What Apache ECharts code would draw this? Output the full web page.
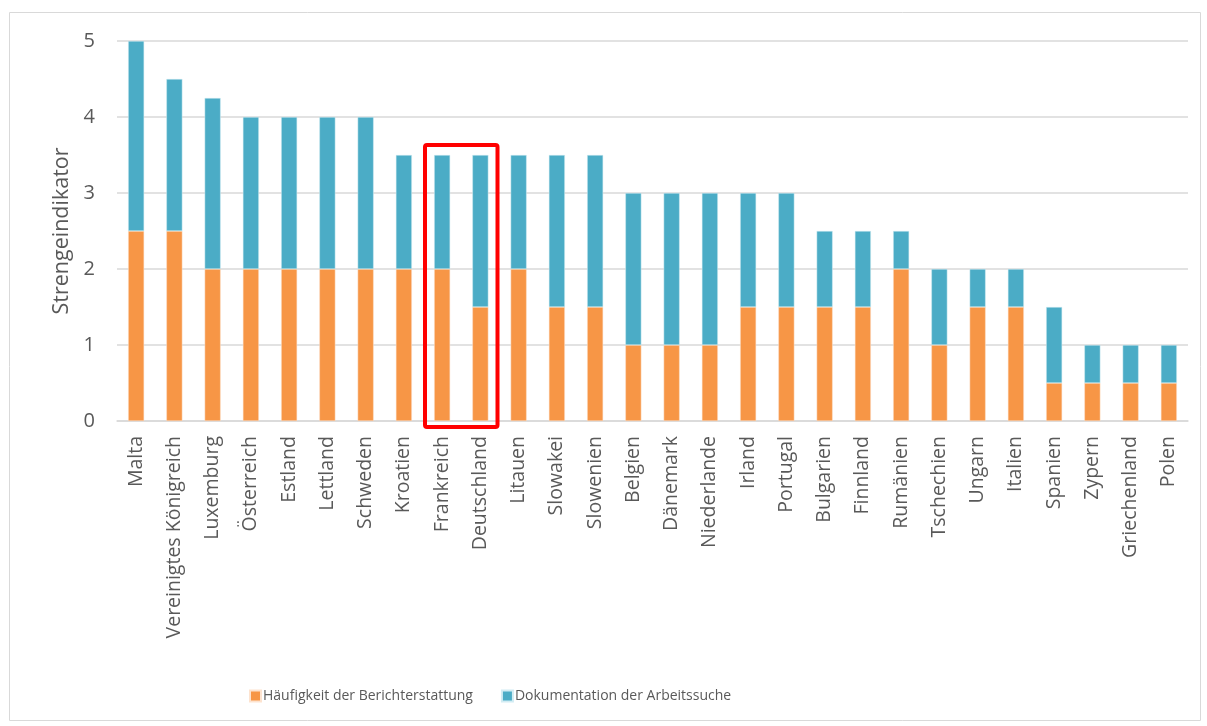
<!DOCTYPE html>
<html>
<head>
<meta charset="utf-8">
<script src="https://cdn.jsdelivr.net/npm/echarts@6/dist/echarts.min.js"></script>
<style>
  html, body { margin: 0; padding: 0; background: #fff; }
  #chart { width: 1207px; height: 726px; }
</style>
</head>
<body>
<div id="chart"></div>
<script>
// Länder (Reihenfolge wie im Original)
const countries = [
  'Malta', 'Vereinigtes Königreich', 'Luxemburg', 'Österreich', 'Estland', 'Lettland',
  'Schweden', 'Kroatien', 'Frankreich', 'Deutschland', 'Litauen', 'Slowakei',
  'Slowenien', 'Belgien', 'Dänemark', 'Niederlande', 'Irland', 'Portugal',
  'Bulgarien', 'Finnland', 'Rumänien', 'Tschechien', 'Ungarn', 'Italien',
  'Spanien', 'Zypern', 'Griechenland', 'Polen'
];

// Häufigkeit der Berichterstattung
const reporting = [
  2.5, 2.5, 2, 2, 2, 2,
  2, 2, 2, 1.5, 2, 1.5,
  1.5, 1, 1, 1, 1.5, 1.5,
  1.5, 1.5, 2, 1, 1.5, 1.5,
  0.5, 0.5, 0.5, 0.5
];

// Dokumentation der Arbeitssuche
const jobSearch = [
  2.5, 2, 2.25, 2, 2, 2,
  2, 1.5, 1.5, 2, 1.5, 2,
  2, 2, 2, 2, 1.5, 1.5,
  1, 1, 0.5, 1, 0.5, 0.5,
  1, 0.5, 0.5, 0.5
];

// hervorgehobene Länder (roter Rahmen) und vertikale Ausdehnung des Rahmens
const highlighted = ['Frankreich', 'Deutschland'];
const highlightRange = [-0.08, 3.63];

const FONT = '"Open Sans", "DejaVu Sans", sans-serif';
const textColor = '#595959';

const chart = echarts.init(document.getElementById('chart'));

chart.setOption({
  animation: false,
  textStyle: { fontFamily: FONT },
  graphic: [{
    id: 'frame',
    type: 'rect',
    shape: { x: 9.5, y: 12.5, width: 1191, height: 708 },
    style: { fill: 'none', stroke: '#d9d9d9', lineWidth: 1 },
    silent: true
  }],
  grid: { left: 117, right: 19, top: 41, bottom: 305 },
  legend: {
    top: 684,
    left: 244,
    itemWidth: 11,
    itemHeight: 11,
    itemGap: 28,
    icon: 'rect',
    textStyle: { color: textColor, fontSize: 14, fontFamily: FONT, padding: [0, 0, 0, -3] },
    data: ['Häufigkeit der Berichterstattung', 'Dokumentation der Arbeitssuche']
  },
  xAxis: {
    type: 'category',
    data: countries,
    axisLine: { lineStyle: { color: '#d9d9d9', width: 1.5 } },
    axisTick: { show: false },
    axisLabel: {
      rotate: 90,
      color: textColor,
      fontSize: 19.5,
      margin: 15,
      interval: 0
    }
  },
  yAxis: {
    type: 'value',
    min: 0,
    max: 5,
    interval: 1,
    name: 'Strengeindikator',
    nameLocation: 'middle',
    nameGap: 43,
    nameTextStyle: { color: textColor, fontSize: 21.5 },
    axisLine: { show: false },
    axisTick: { show: false },
    axisLabel: { color: textColor, fontSize: 20, margin: 22 },
    splitLine: { lineStyle: { color: '#d9d9d9', width: 1.5 } }
  },
  series: [
    {
      name: 'Häufigkeit der Berichterstattung',
      type: 'bar',
      stack: 'total',
      barWidth: 16,
      data: reporting,
      itemStyle: { color: '#F79646', borderColor: '#fde3cf', borderWidth: 0.5 }
    },
    {
      name: 'Dokumentation der Arbeitssuche',
      type: 'bar',
      stack: 'total',
      barWidth: 16,
      data: jobSearch,
      itemStyle: { color: '#4BACC6', borderColor: '#d2ecf3', borderWidth: 0.5 }
    }
  ]
});

// roten Rahmen über die Achsen-Skalen positionieren
const i0 = countries.indexOf(highlighted[0]);
const i1 = countries.indexOf(highlighted[1]);
const c0 = chart.convertToPixel({ gridIndex: 0 }, [i0, 0]);
const c1 = chart.convertToPixel({ gridIndex: 0 }, [i0 + 1, 0]);
const c2 = chart.convertToPixel({ gridIndex: 0 }, [i1, 0]);
const band = c1[0] - c0[0];
const yTop = chart.convertToPixel({ gridIndex: 0 }, [i0, highlightRange[1]])[1];
const yBottom = chart.convertToPixel({ gridIndex: 0 }, [i0, highlightRange[0]])[1];
const xLeft = c0[0] - band / 2 + 2;
const xRight = c2[0] + band / 2 - 2;

chart.setOption({
  graphic: [{
    id: 'highlight',
    type: 'rect',
    z: 100,
    shape: { x: xLeft, y: yTop, width: xRight - xLeft, height: yBottom - yTop, r: 2 },
    style: { fill: 'none', stroke: '#ff0000', lineWidth: 4 },
    silent: true
  }]
});
</script>
</body>
</html>
